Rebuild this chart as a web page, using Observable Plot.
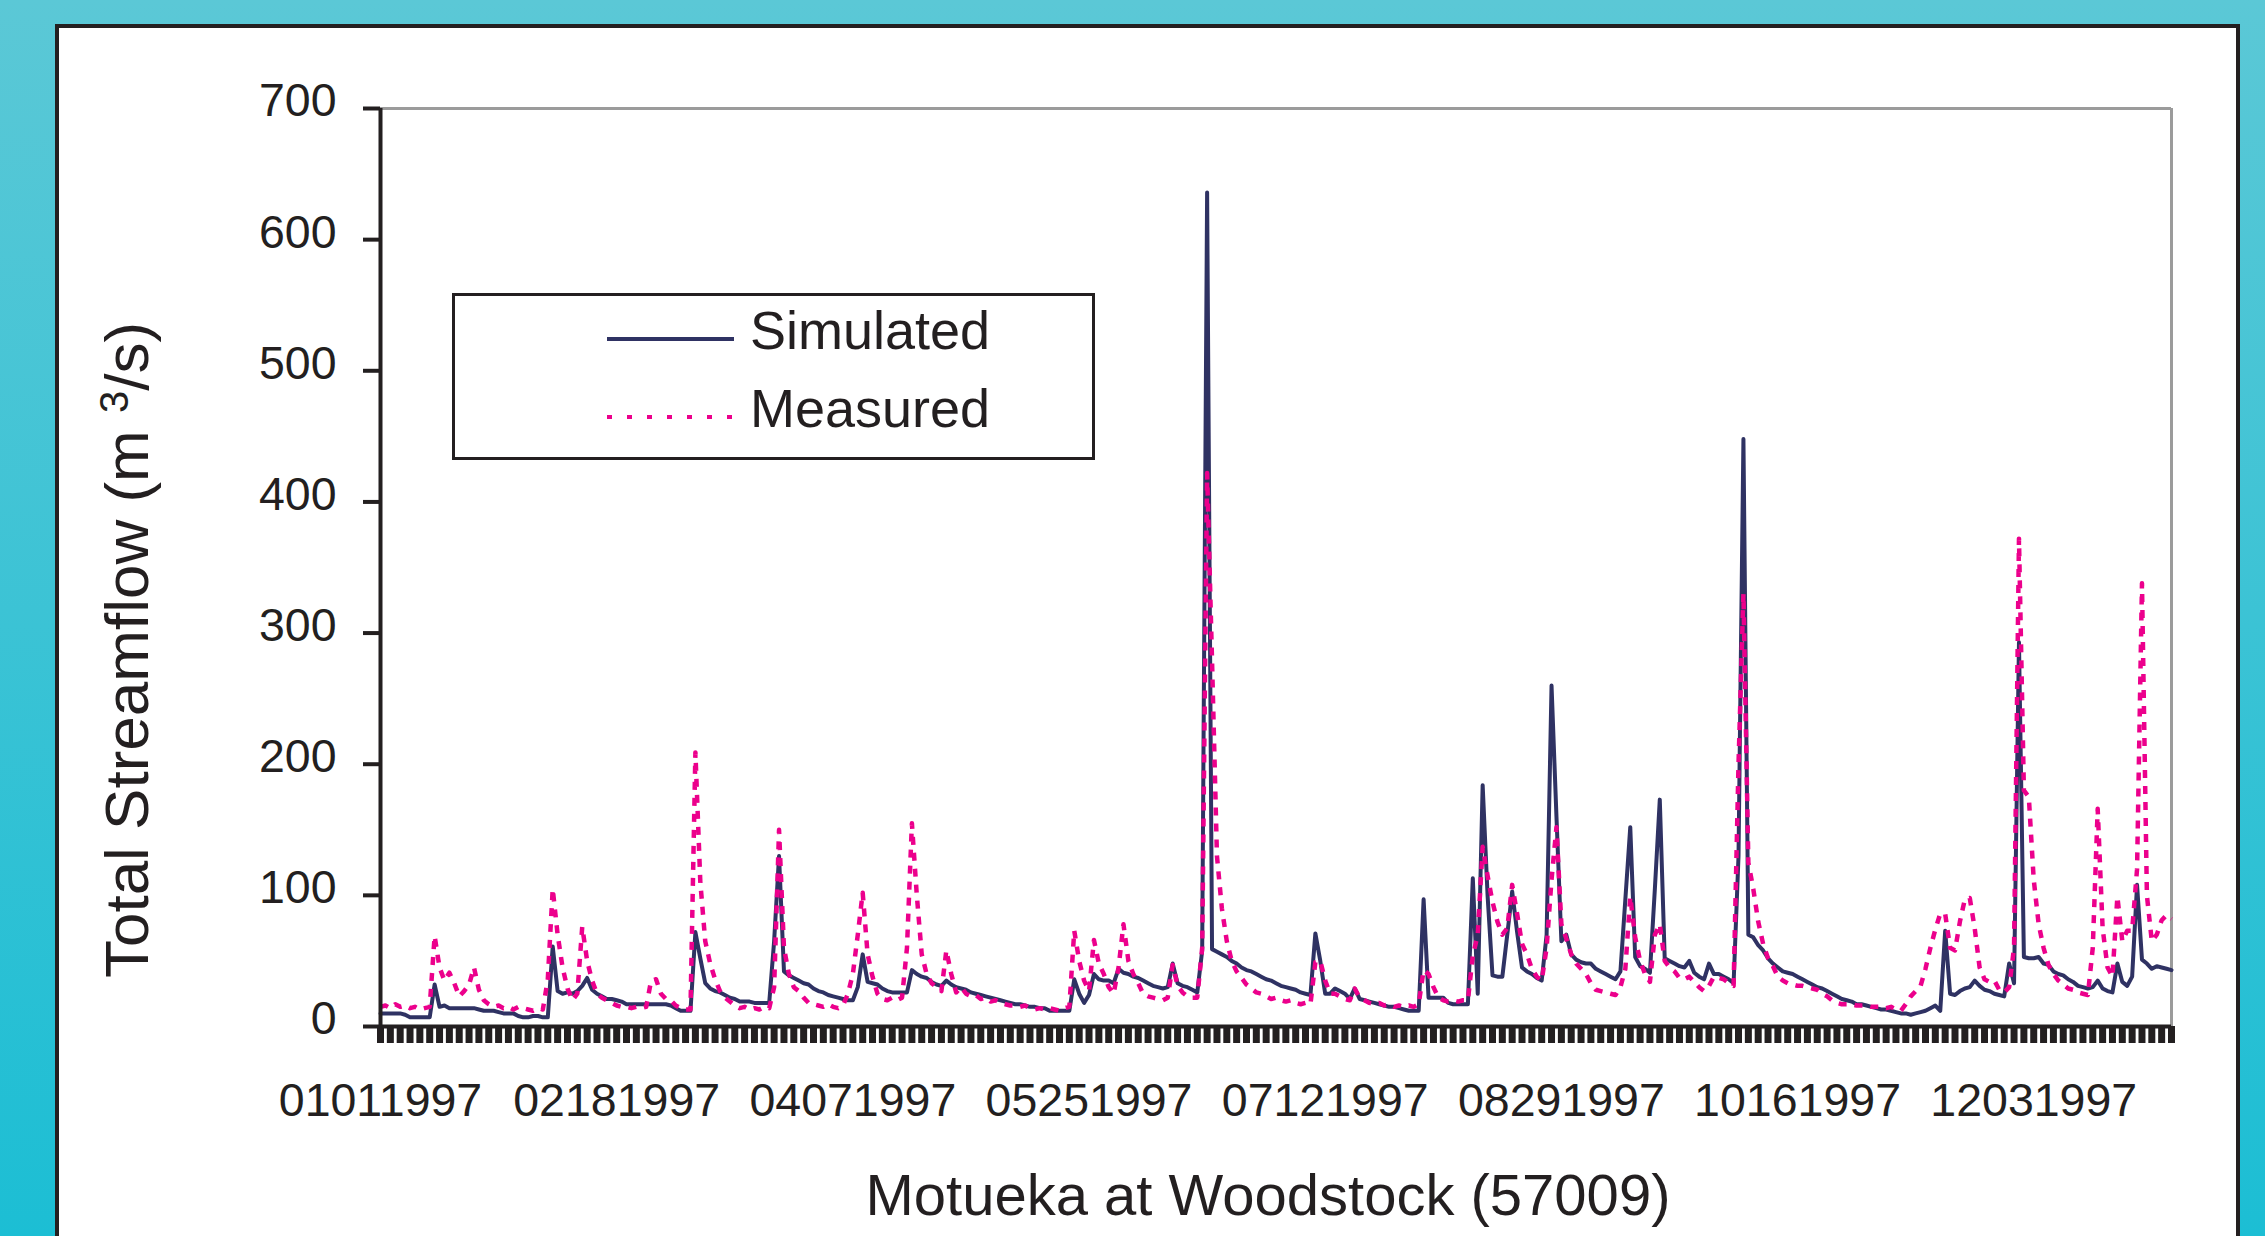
<!DOCTYPE html>
<html>
<head>
<meta charset="utf-8">
<script src="https://cdn.jsdelivr.net/npm/d3@7"></script>
<script src="https://cdn.jsdelivr.net/npm/@observablehq/plot@0.6"></script>
<style>
html,body{margin:0;padding:0;}
body{width:2265px;height:1236px;overflow:hidden;position:relative;
  background:linear-gradient(to bottom,#5BC8D6 0%,#1CBED4 100%);
  font-family:"Liberation Sans",Arial,Helvetica,sans-serif;}
#panel{position:absolute;left:55px;top:24px;width:2185px;height:1300px;box-sizing:border-box;
  background:#fff;border:4px solid #231F20;}
#chart{position:absolute;left:0;top:0;}
#overlay{position:absolute;left:0;top:0;}
</style>
</head>
<body>
<div id="panel"></div>
<div id="chart"></div>
<svg id="overlay" width="2265" height="1236" font-family="Liberation Sans, Arial, sans-serif" fill="#231F20">
  <g id="legend">
    <rect x="453.5" y="294.5" width="640" height="164" fill="#fff" stroke="#231F20" stroke-width="3"></rect>
    <line x1="607" x2="734" y1="339" y2="339" stroke="#2F3263" stroke-width="4"></line>
    <text x="750" y="349" font-size="54">Simulated</text>
    <line x1="607" x2="734" y1="417" y2="417" stroke="#EC008C" stroke-width="4" stroke-dasharray="5,15"></line>
    <text x="750" y="427" font-size="54">Measured</text>
  </g>
  <text id="ytitle" transform="translate(148,650) rotate(-90)" text-anchor="middle" font-size="62">Total Streamflow (m <tspan font-size="40" dy="-20">3</tspan><tspan dy="20">/s)</tspan></text>
  <text id="xtitle" x="1268" y="1215" text-anchor="middle" font-size="58">Motueka at Woodstock (57009)</text>
</svg>
<script>
// ---- data (daily, 1997-01-01 .. 1997-12-31) ----
const startYear = 1997;
const simulated = [
  10,10,10,10,10,9,7,7,7,7,
  7,32,15,16,14,14,14,14,14,14,
  13,12,12,12,11,10,10,10,8,7,
  7,8,8,7,7,61,27,25,26,25,
  27,31,37,28,25,23,21,21,20,19,
  17,17,17,17,17,17,17,17,17,16,
  14,12,12,12,72,52,33,29,27,26,
  24,22,21,19,19,19,18,18,18,18,
  65,130,42,39,37,35,33,32,29,27,
  26,24,23,22,21,20,20,30,55,34,
  33,32,29,27,26,26,26,26,43,40,
  38,37,34,32,31,35,32,30,29,28,
  26,25,24,23,22,21,20,19,18,17,
  17,16,15,15,14,14,12,12,12,12,
  12,36,25,18,24,40,36,35,35,33,
  44,41,40,38,37,35,33,31,30,29,
  30,48,33,31,30,28,26,58,636,59,
  57,55,53,50,48,45,43,42,40,38,
  36,35,33,31,30,29,28,26,25,24,
  71,50,25,25,29,27,25,21,29,21,
  20,19,18,17,16,15,15,14,13,12,
  12,12,97,22,22,22,22,18,17,17,
  17,17,113,25,184,100,39,38,38,70,
  103,72,45,42,40,37,35,70,260,160,
  65,70,55,51,49,48,48,44,42,40,
  38,36,42,97,152,53,46,44,41,105,
  173,52,50,48,46,45,50,41,38,36,
  48,40,40,38,36,33,130,448,70,68,
  62,58,52,48,45,42,41,40,38,36,
  34,32,30,29,27,25,23,21,20,19,
  17,17,16,15,14,13,13,12,11,10,
  10,9,10,11,12,14,16,12,73,25,
  24,27,29,30,35,31,28,27,25,24,
  23,48,33,293,53,52,52,53,48,47,
  42,40,39,36,34,31,30,29,30,35,
  29,27,26,48,34,31,38,108,51,48,
  44,46,45,44,43
];
const measured = [
  15,16,14,17,15,16,14,15,13,14,
  15,69,45,35,41,33,23,27,32,45,
  28,20,17,15,16,14,15,13,15,14,
  13,12,14,13,36,105,70,45,29,20,
  25,76,50,35,25,22,20,18,16,15,
  15,14,15,14,15,35,36,25,21,20,
  16,14,13,13,209,110,65,48,36,27,
  22,19,16,14,15,13,14,13,15,14,
  30,150,60,40,30,27,22,18,17,16,
  15,17,15,14,16,25,40,70,102,55,
  38,25,21,20,22,20,22,60,155,100,
  55,40,33,30,27,58,40,26,30,25,
  23,24,21,22,19,20,18,17,16,16,
  15,16,14,13,14,13,14,13,12,14,
  15,73,50,35,27,66,48,40,30,25,
  45,78,50,40,33,25,23,22,21,20,
  22,47,31,26,23,22,22,60,422,279,
  130,90,65,50,42,37,32,29,26,25,
  23,21,22,20,19,20,18,17,18,17,
  49,50,35,25,25,23,21,20,29,22,
  20,18,17,18,16,17,15,16,15,16,
  15,17,43,40,30,22,20,19,20,19,
  20,20,54,70,137,115,95,80,70,75,
  108,86,63,55,44,38,35,60,112,152,
  78,67,55,48,44,40,33,28,27,26,
  25,24,30,44,99,68,50,40,34,70,
  78,50,45,42,37,36,38,34,30,27,
  31,38,37,36,33,31,200,330,125,105,
  80,63,52,46,38,35,33,32,31,31,
  30,29,28,25,23,20,18,17,17,17,
  16,16,16,15,15,15,14,15,13,12,
  17,23,27,31,44,60,74,86,86,60,
  58,80,97,98,75,45,36,34,35,28,
  26,30,60,372,180,175,112,78,60,47,
  40,35,32,29,28,26,25,24,60,166,
  75,45,38,99,65,73,73,120,338,100,
  65,70,81,85,82
];
const xTickLabels = ["01011997","02181997","04071997","05251997","07121997","08291997","10161997","12031997"];
const yTicks = [0,100,200,300,400,500,600,700];

if (simulated.length !== 365 || measured.length !== 365) {
  throw new Error("length " + simulated.length + " " + measured.length);
}

const dates = simulated.map((_, i) => new Date(Date.UTC(startYear, 0, 1 + i)));
const simData = simulated.map((v, i) => ({date: dates[i], value: v}));
const measData = measured.map((v, i) => ({date: dates[i], value: v}));
const parseLabel = d3.utcParse("%m%d%Y");
const labelDates = xTickLabels.map(parseLabel);
const fenceDates = dates.filter((d, i) => i % 2 === 0);

const ink = "#231F20";
const chart = Plot.plot({
  width: 2265,
  height: 1236,
  marginLeft: 380,
  marginRight: 94,
  marginTop: 108,
  marginBottom: 210,
  style: {background: "transparent", fontFamily: "Liberation Sans, Arial, sans-serif", color: ink, overflow: "visible"},
  x: {type: "utc", domain: [dates[0], dates[dates.length - 1]]},
  y: {domain: [0, 700]},
  marks: [
    Plot.ruleY([700], {stroke: "#9B9B9B", strokeWidth: 3}),
    Plot.ruleX([dates[dates.length - 1]], {y1: 0, y2: 700, stroke: "#9B9B9B", strokeWidth: 3}),
    Plot.lineY(simData, {x: "date", y: "value", stroke: "#2F3263", strokeWidth: 4, strokeLinejoin: "round"}),
    Plot.lineY(measData, {x: "date", y: "value", stroke: "#EC008C", strokeWidth: 4.5, strokeDasharray: "8,8", strokeLinecap: "butt"}),
    Plot.axisX(fenceDates, {tickSize: 17, strokeWidth: 7, stroke: ink, tickFormat: () => "", label: null}),
    Plot.axisX(labelDates, {tickSize: 0, tickPadding: 56, fontSize: 46.5, fill: ink, tickFormat: d3.utcFormat("%m%d%Y"), label: null}),
    Plot.axisY(yTicks, {tickSize: 17, strokeWidth: 4, stroke: ink, tickFormat: () => "", label: null}),
    Plot.axisY(yTicks, {tickSize: 0, tickPadding: 44, fontSize: 46.5, fill: ink, dy: -7, label: null}),
    Plot.ruleX([dates[0]], {y1: 0, y2: 700, stroke: ink, strokeWidth: 4}),
    Plot.ruleY([0], {stroke: ink, strokeWidth: 4})
  ]
});
document.getElementById("chart").appendChild(chart);
</script>
</body>
</html>
